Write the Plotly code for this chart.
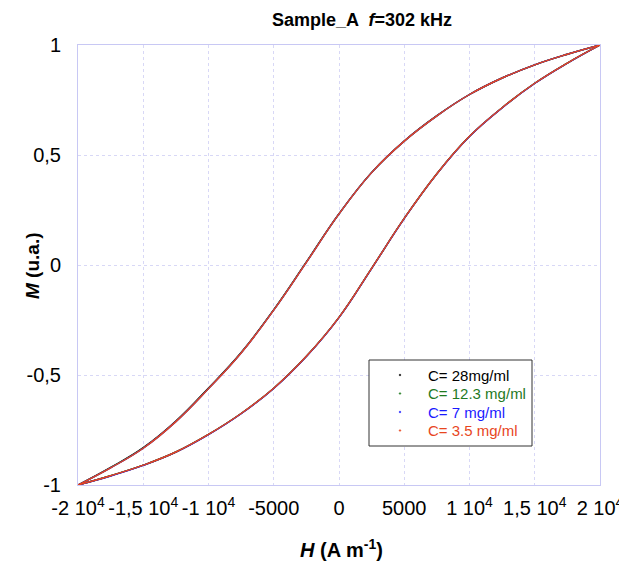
import plotly.graph_objects as go

# Field values (A/m) for both branches
H = [-20000, -17500, -15000, -12500, -10000, -7500, -5000, -2500, 0,
     2500, 5000, 7500, 10000, 12500, 15000, 17500, 20000]

# Descending-field branch (upper) and ascending-field branch (lower) per concentration
M_up_28 = [-1.0, -0.920, -0.830, -0.709, -0.559, -0.398, -0.203, 0.014, 0.233,
           0.421, 0.564, 0.679, 0.775, 0.850, 0.910, 0.958, 1.0]
M_lo_28 = [-1.0, -0.958, -0.910, -0.850, -0.770, -0.675, -0.560, -0.415, -0.238,
           -0.015, 0.212, 0.415, 0.585, 0.715, 0.826, 0.918, 1.0]

M_up_123 = [-1.0, -0.921, -0.832, -0.711, -0.561, -0.399, -0.204, 0.013, 0.232,
            0.420, 0.563, 0.678, 0.775, 0.850, 0.910, 0.958, 1.0]
M_lo_123 = [-1.0, -0.958, -0.910, -0.850, -0.770, -0.675, -0.560, -0.415, -0.238,
            -0.015, 0.212, 0.415, 0.585, 0.715, 0.826, 0.918, 1.0]

M_up_7 = [-1.0, -0.922, -0.833, -0.712, -0.562, -0.400, -0.205, 0.012, 0.232,
          0.420, 0.563, 0.678, 0.775, 0.850, 0.910, 0.958, 1.0]
M_lo_7 = [-1.0, -0.959, -0.911, -0.851, -0.771, -0.676, -0.561, -0.416, -0.239,
          -0.016, 0.211, 0.414, 0.584, 0.714, 0.825, 0.917, 1.0]

M_up_35 = [-1.0, -0.922, -0.833, -0.712, -0.562, -0.400, -0.205, 0.012, 0.232,
           0.420, 0.563, 0.678, 0.775, 0.850, 0.910, 0.958, 1.0]
M_lo_35 = [-1.0, -0.958, -0.910, -0.850, -0.770, -0.675, -0.560, -0.415, -0.238,
           -0.015, 0.212, 0.415, 0.585, 0.715, 0.826, 0.918, 1.0]

series_names = ["C= 28mg/ml", "C= 12.3 mg/ml", "C= 7 mg/ml", "C= 3.5 mg/ml"]
series_colors = ["#000000", "#1f7a1f", "#1a1aff", "#e8461e"]
series_up = [M_up_28, M_up_123, M_up_7, M_up_35]
series_lo = [M_lo_28, M_lo_123, M_lo_7, M_lo_35]

x_tickvals = [-20000, -15000, -10000, -5000, 0, 5000, 10000, 15000, 20000]
x_ticktext = ["-2 10<sup>4</sup>", "-1,5 10<sup>4</sup>", "-1 10<sup>4</sup>", "-5000", "0",
              "5000", "1 10<sup>4</sup>", "1,5 10<sup>4</sup>", "2 10<sup>4</sup>"]
y_tickvals = [-1, -0.5, 0, 0.5, 1]
y_ticktext = ["-1", "-0,5", "0", "0,5", "1"]

FONT = "Liberation Sans, Arial, sans-serif"

# layout geometry (figure pixels; page has an 8px body offset)
W, HGT = 627, 565
ML, MR, MT, MB = 70, 35, 37, 88
PW, PH = W - ML - MR, HGT - MT - MB


def px(fx):
    return (fx - 8 - ML) / PW


def py(fy):
    return (HGT - MB - (fy - 8)) / PH


fig = go.Figure()
for name, col, up, lo in zip(series_names, series_colors, series_up, series_lo):
    for br in (up, lo):
        fig.add_trace(go.Scatter(x=H, y=br, mode="lines", name=name,
                                 line=dict(color=col, width=1.4, shape="spline", smoothing=1.2),
                                 showlegend=False, hoverinfo="skip"))

axis_common = dict(showline=True, linecolor="#c8c8f4", linewidth=1, mirror=True,
                   showgrid=True, gridcolor="#d8d8f6", griddash="dot", gridwidth=1,
                   zeroline=False, ticks="", automargin=False,
                   tickfont=dict(family=FONT, size=20, color="#000"))

annotations = [
    dict(text="<b><i>H</i> (A m<sup>-1</sup>)</b>", xref="paper", yref="paper",
         x=px(341), y=py(548), xanchor="center", yanchor="middle", showarrow=False,
         font=dict(family=FONT, size=20, color="#000")),
    dict(text="<b><i>M</i> (u.a.)</b>", xref="paper", yref="paper", textangle=-90,
         x=px(32), y=py(266), xanchor="center", yanchor="middle", showarrow=False,
         font=dict(family=FONT, size=19, color="#000")),
]
shapes = [dict(type="rect", xref="paper", yref="paper",
               x0=px(369), x1=px(532), y0=py(446), y1=py(360),
               line=dict(color="#333", width=1), fillcolor="white", layer="above")]

row_y = [375, 393.5, 412, 430.5]
for name, col, ry in zip(series_names, series_colors, row_y):
    annotations.append(dict(text=name, xref="paper", yref="paper", x=px(426), y=py(ry),
                            xanchor="left", yanchor="middle", showarrow=False,
                            font=dict(family=FONT, size=15, color=col)))
    shapes.append(dict(type="circle", xref="paper", yref="paper",
                       x0=px(399.2), x1=px(400.8), y0=py(ry + 0.8), y1=py(ry - 0.8),
                       line=dict(color=col, width=0.6), fillcolor=col, layer="above"))

fig.update_layout(
    width=W, height=HGT,
    paper_bgcolor="white", plot_bgcolor="white",
    margin=dict(l=ML, r=MR, t=MT, b=MB),
    title=dict(text="<b>Sample_A  <i>f</i>=302 kHz</b>", x=(362 - 8) / W, xanchor="center",
               y=1 - 12 / HGT, yanchor="middle",
               font=dict(family=FONT, size=18, color="#000")),
    xaxis=dict(range=[-20000, 20000], tickvals=x_tickvals, ticktext=x_ticktext,
               tickangle=0, ticklabelstandoff=5, **axis_common),
    yaxis=dict(range=[-1, 1], tickvals=y_tickvals, ticktext=y_ticktext,
               ticklabelstandoff=12, **axis_common),
    annotations=annotations,
    shapes=shapes,
    showlegend=False,
)

fig.write_html("out.html")
